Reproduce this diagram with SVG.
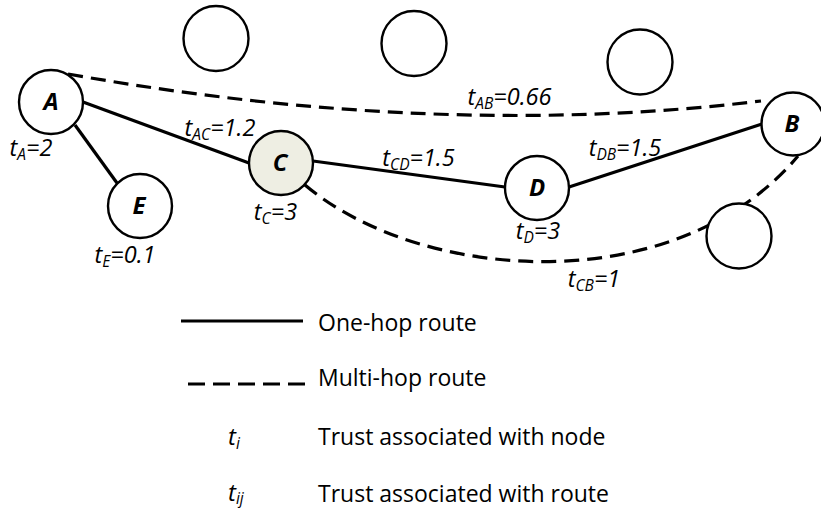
<svg xmlns="http://www.w3.org/2000/svg" width="821" height="509" viewBox="0 0 821 509">
<style>
.node{fill:#ffffff;stroke:#000000;stroke-width:2.4}
.hl{fill:#EEEEE3}
.solid{fill:none;stroke:#000000;stroke-width:3.2}
.dash{fill:none;stroke:#000000;stroke-width:3.2;stroke-dasharray:15 8}
.nl{font-family:"Open Sans","Noto Sans",sans-serif;font-style:italic;font-weight:bold;font-size:24px;text-anchor:middle}
.tl{font-family:"Open Sans","Noto Sans",sans-serif;font-style:italic;font-size:23.5px;text-anchor:middle}
.lg{font-family:"Open Sans","Noto Sans",sans-serif;font-size:23px}
.lgi{font-family:"Open Sans","Noto Sans",sans-serif;font-style:italic;font-size:24px}
.sub{font-size:15.5px}
</style>
<rect width="821" height="509" fill="#ffffff"/>
<g id="connectors">
<line class="solid" x1="83" y1="102" x2="249" y2="163"/>
<line class="solid" x1="75" y1="125" x2="117" y2="183"/>
<line class="solid" x1="313" y1="161" x2="505" y2="187"/>
<line class="solid" x1="569" y1="187" x2="762" y2="124"/>
<path class="dash" d="M68,74 Q440,140 761,101"/>
<path class="dash" d="M305,185 C420,282 675,302 798,156"/>
</g>
<g id="node-top1"><circle class="node" cx="216" cy="38.5" r="32.5"/></g>
<g id="node-top2"><circle class="node" cx="414" cy="43.5" r="32.5"/></g>
<g id="node-top3"><circle class="node" cx="640" cy="62" r="32.5"/></g>
<g id="node-br"><circle class="node" cx="739" cy="236" r="32.5"/></g>
<g id="node-A"><circle class="node" cx="51" cy="102" r="32"/><text class="nl" x="51" y="110">A</text></g>
<g id="node-E"><circle class="node" cx="140" cy="206" r="32"/><text class="nl" x="139" y="214">E</text></g>
<g id="node-C"><circle class="node hl" cx="281" cy="163" r="32"/><text class="nl" x="280" y="171">C</text></g>
<g id="node-D"><circle class="node" cx="537" cy="188" r="32"/><text class="nl" x="537" y="196">D</text></g>
<g id="node-B"><circle class="node" cx="793" cy="124" r="31.5"/><text class="nl" x="792" y="132">B</text></g>
<g id="labels">
<text class="tl" x="31" y="156">t<tspan class="sub" dy="4">A</tspan><tspan dy="-4">=2</tspan></text>
<text class="tl" x="220" y="136">t<tspan class="sub" dy="4">AC</tspan><tspan dy="-4">=1.2</tspan></text>
<text class="tl" x="275.5" y="220">t<tspan class="sub" dy="4">C</tspan><tspan dy="-4">=3</tspan></text>
<text class="tl" x="125" y="263">t<tspan class="sub" dy="4">E</tspan><tspan dy="-4">=0.1</tspan></text>
<text class="tl" x="509.5" y="105">t<tspan class="sub" dy="4">AB</tspan><tspan dy="-4">=0.66</tspan></text>
<text class="tl" x="418.5" y="166">t<tspan class="sub" dy="4">CD</tspan><tspan dy="-4">=1.5</tspan></text>
<text class="tl" x="625" y="156">t<tspan class="sub" dy="4">DB</tspan><tspan dy="-4">=1.5</tspan></text>
<text class="tl" x="538" y="239">t<tspan class="sub" dy="4">D</tspan><tspan dy="-4">=3</tspan></text>
<text class="tl" x="594" y="287">t<tspan class="sub" dy="4">CB</tspan><tspan dy="-4">=1</tspan></text>
</g>
<g id="legend">
<line class="solid" x1="181" y1="321" x2="303" y2="321"/>
<line x1="188" y1="384" x2="305" y2="384" stroke="#000" stroke-width="3.2" stroke-dasharray="17 8"/>
<text class="lg" x="318" y="331">One-hop route</text>
<text class="lg" x="318" y="386">Multi-hop route</text>
<text class="lgi" x="228" y="445">t<tspan class="sub" dy="4">i</tspan></text>
<text class="lg" x="318" y="445">Trust associated with node</text>
<text class="lgi" x="228" y="501">t<tspan class="sub" dy="3">ij</tspan></text>
<text class="lg" x="318" y="502">Trust associated with route</text>
</g>
</svg>
